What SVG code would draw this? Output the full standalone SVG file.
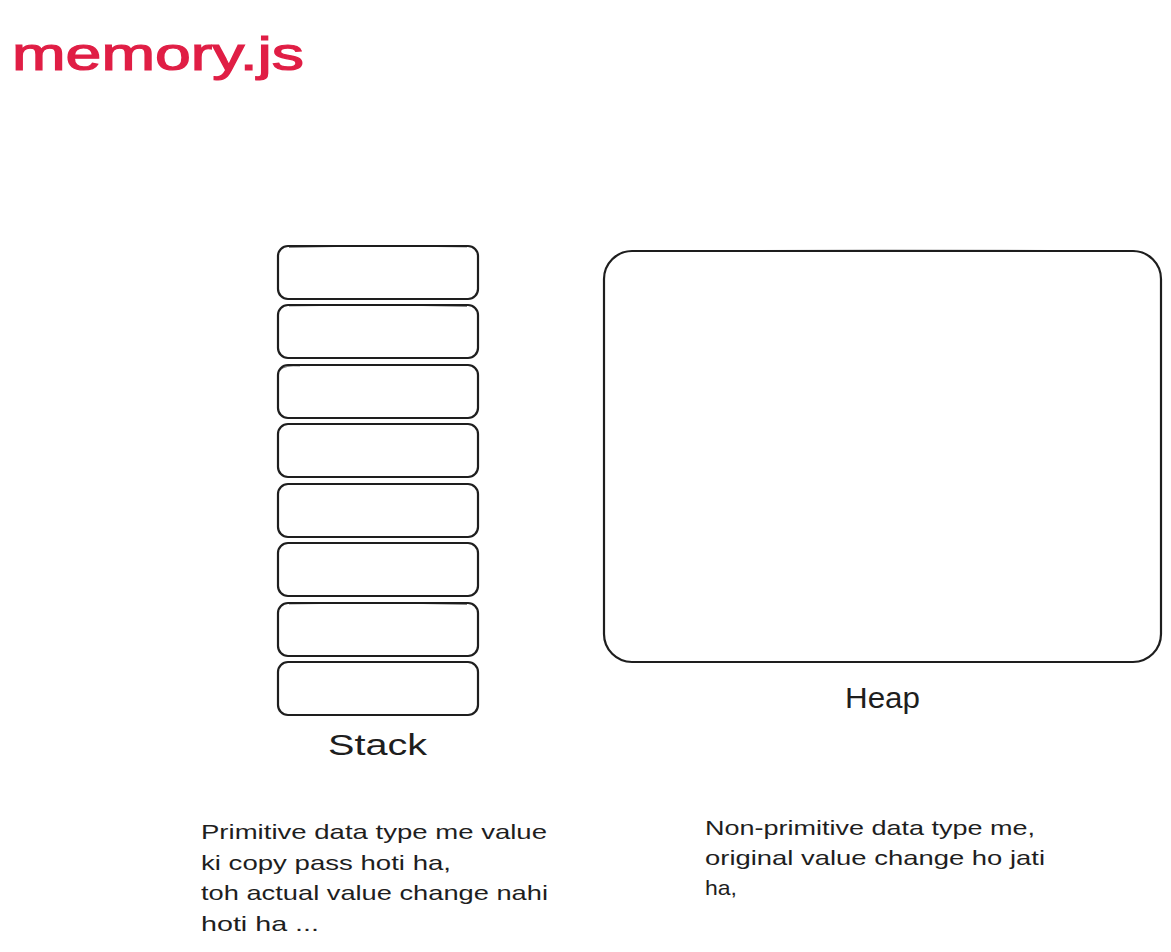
<svg xmlns="http://www.w3.org/2000/svg" width="1171" height="952" viewBox="0 0 1171 952">
<style>
.bg{fill:#ffffff}
.box{fill:none;stroke:#1e1e1e;stroke-width:2.2;stroke-linejoin:round}
.box2{fill:none;stroke:#1e1e1e;stroke-width:1;opacity:0.55}
.t{font-family:"Liberation Sans","Noto Sans",sans-serif;fill:#1e1e1e}
.title{font-family:"Liberation Sans","Noto Sans",sans-serif;fill:#e01e45;stroke:#e01e45;stroke-width:1.2;font-size:46px}
.lbl{font-size:30px}
.note{font-size:21px}
</style>
<rect class="bg" x="0" y="0" width="1171" height="952"/>
<g id="title"><text class="title" x="12" y="70" textLength="292" lengthAdjust="spacingAndGlyphs">memory.js</text></g>
<g id="stack">
  <g id="stack-1"><rect class="box" x="278" y="246" width="200" height="53" rx="10"/><path class="box2" d="M289 247.5 Q380 245 467 247"/></g>
  <g id="stack-2"><rect class="box" x="278" y="305" width="200" height="53" rx="10"/><path class="box2" d="M289 306 Q380 304 467 306.5"/></g>
  <g id="stack-3"><rect class="box" x="278" y="365" width="200" height="53" rx="10"/><path class="box2" d="M280 370 Q285 365 300 366"/></g>
  <g id="stack-4"><rect class="box" x="278" y="424" width="200" height="53" rx="10"/></g>
  <g id="stack-5"><rect class="box" x="278" y="484" width="200" height="53" rx="10"/></g>
  <g id="stack-6"><rect class="box" x="278" y="543" width="200" height="53" rx="10"/></g>
  <g id="stack-7"><rect class="box" x="278" y="603" width="200" height="53" rx="10"/><path class="box2" d="M289 604 Q380 602 467 604.5"/></g>
  <g id="stack-8"><rect class="box" x="278" y="662" width="200" height="53" rx="10"/></g>
</g>
<g id="stack-label"><text class="t lbl" x="328" y="755" textLength="99" lengthAdjust="spacingAndGlyphs">Stack</text></g>
<g id="heap"><rect class="box" x="604" y="251" width="557" height="411" rx="28"/><path class="box2" d="M630 251.5 Q880 249 1135 251"/></g>
<g id="heap-label"><text class="t lbl" x="845" y="708" textLength="75" lengthAdjust="spacingAndGlyphs">Heap</text></g>
<g id="note-primitive">
  <text class="t note" x="201" y="839" textLength="346" lengthAdjust="spacingAndGlyphs">Primitive data type me value</text>
  <text class="t note" x="201" y="870" textLength="250" lengthAdjust="spacingAndGlyphs">ki copy pass hoti ha,</text>
  <text class="t note" x="201" y="900" textLength="347" lengthAdjust="spacingAndGlyphs">toh actual value change nahi</text>
  <text class="t note" x="201" y="931" textLength="118" lengthAdjust="spacingAndGlyphs">hoti ha ...</text>
</g>
<g id="note-nonprimitive">
  <text class="t note" x="705" y="835" textLength="330" lengthAdjust="spacingAndGlyphs">Non-primitive data type me,</text>
  <text class="t note" x="705" y="865" textLength="340" lengthAdjust="spacingAndGlyphs">original value change ho jati</text>
  <text class="t note" x="705" y="895" textLength="32" lengthAdjust="spacingAndGlyphs">ha,</text>
</g>
<g id="connectors"/>
</svg>
